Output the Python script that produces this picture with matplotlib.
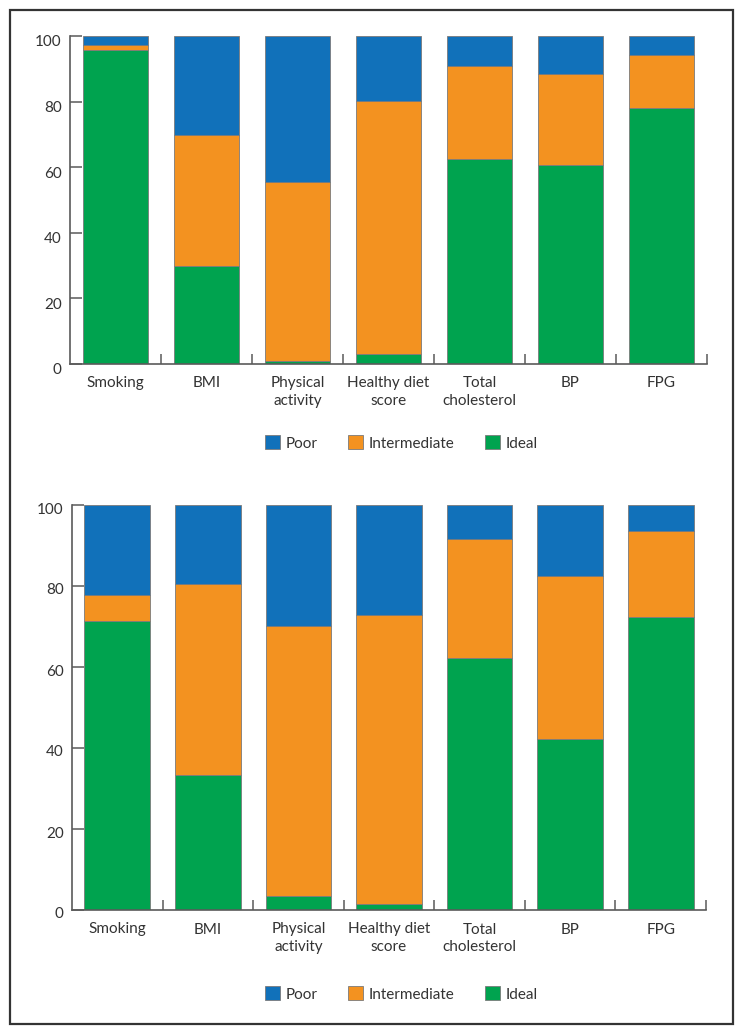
import matplotlib.pyplot as plt
import matplotlib.transforms as mtransforms
from matplotlib.patches import Rectangle, Patch

categories = ["Smoking", "BMI", "Physical\nactivity", "Healthy diet\nscore",
              "Total\ncholesterol", "BP", "FPG"]

# top panel (%)
ideal_top = [95.7, 30.0, 1.0, 3.0, 62.5, 60.7, 78.1]
inter_top = [1.5, 39.8, 54.5, 77.3, 28.4, 27.7, 16.0]
poor_top = [2.8, 30.2, 44.5, 19.7, 9.1, 11.6, 5.9]

# bottom panel (%)
ideal_bot = [71.4, 33.3, 3.5, 1.4, 62.3, 42.1, 72.3]
inter_bot = [6.3, 47.1, 66.7, 71.4, 29.4, 40.4, 21.3]
poor_bot = [22.3, 19.6, 29.8, 27.2, 8.3, 17.5, 6.4]

yticks = [0, 20, 40, 60, 80, 100]

c_poor = "#1171ba"
c_inter = "#f39220"
c_ideal = "#00a34f"
edge = "#7a7a7a"
txt = "#333333"
spine_c = "#5a5a5a"

plt.rcParams["font.family"] = ["Lato", "DejaVu Sans"]
plt.rcParams["font.size"] = 11

fig = plt.figure(figsize=(7.44, 10.35), dpi=100)

# outer frame
fig.patches.append(Rectangle((10 / 744, 1 - 1024 / 1035), 723 / 744, 1014 / 1035,
                             transform=fig.transFigure, fill=False,
                             edgecolor="#333333", linewidth=1.6))


def draw_panel(ax, ideal, inter, poor, ylab_shift):
    x = list(range(len(categories)))
    w = 0.725
    ax.bar(x, ideal, w, color=c_ideal, edgecolor=edge, linewidth=0.6)
    ax.bar(x, inter, w, bottom=ideal, color=c_inter, edgecolor=edge, linewidth=0.6)
    b3 = [a + b for a, b in zip(ideal, inter)]
    ax.bar(x, poor, w, bottom=b3, color=c_poor, edgecolor=edge, linewidth=0.6)

    ax.set_xlim(-0.5, len(categories) - 0.5)
    ax.set_ylim(0, 100)
    ax.set_yticks(yticks)
    ax.set_xticks(x)
    ax.set_xticklabels(categories, color=txt, linespacing=1.3)
    ax.set_xticks([i + 0.5 for i in x], minor=True)
    ax.tick_params(axis="x", which="major", length=0, pad=9)
    ax.tick_params(axis="x", which="minor", direction="in", length=7,
                   width=1.1, color=spine_c)
    ax.tick_params(axis="y", direction="in", length=8.5, width=1.1,
                   color=spine_c, labelcolor=txt, pad=6)
    off = mtransforms.ScaledTranslation(0, -ylab_shift / 100, fig.dpi_scale_trans)
    for lab in ax.get_yticklabels():
        lab.set_transform(lab.get_transform() + off)
    for s in ["top", "right"]:
        ax.spines[s].set_visible(False)
    for s in ["left", "bottom"]:
        ax.spines[s].set_color(spine_c)
        ax.spines[s].set_linewidth(1.2)


def add_legend(ycenter):
    handles = [Patch(facecolor=c_poor, edgecolor=edge, linewidth=0.6, label="Poor"),
               Patch(facecolor=c_inter, edgecolor=edge, linewidth=0.6, label="Intermediate"),
               Patch(facecolor=c_ideal, edgecolor=edge, linewidth=0.6, label="Ideal")]
    leg = fig.legend(handles=handles, loc="center", ncol=3, frameon=False,
                     bbox_to_anchor=(401 / 744, 1 - ycenter / 1035),
                     handlelength=1.0, handleheight=1.0, handletextpad=0.35,
                     columnspacing=2.0)
    for t in leg.get_texts():
        t.set_color(txt)


ax1 = fig.add_axes([70 / 744, 1 - 364 / 1035, 637 / 744, 328 / 1035])
draw_panel(ax1, ideal_top, inter_top, poor_top, 5)
add_legend(443)

ax2 = fig.add_axes([72 / 744, 1 - 910 / 1035, 634 / 744, 405 / 1035])
draw_panel(ax2, ideal_bot, inter_bot, poor_bot, 3)
add_legend(994)

fig.savefig("out.png", dpi=100)
